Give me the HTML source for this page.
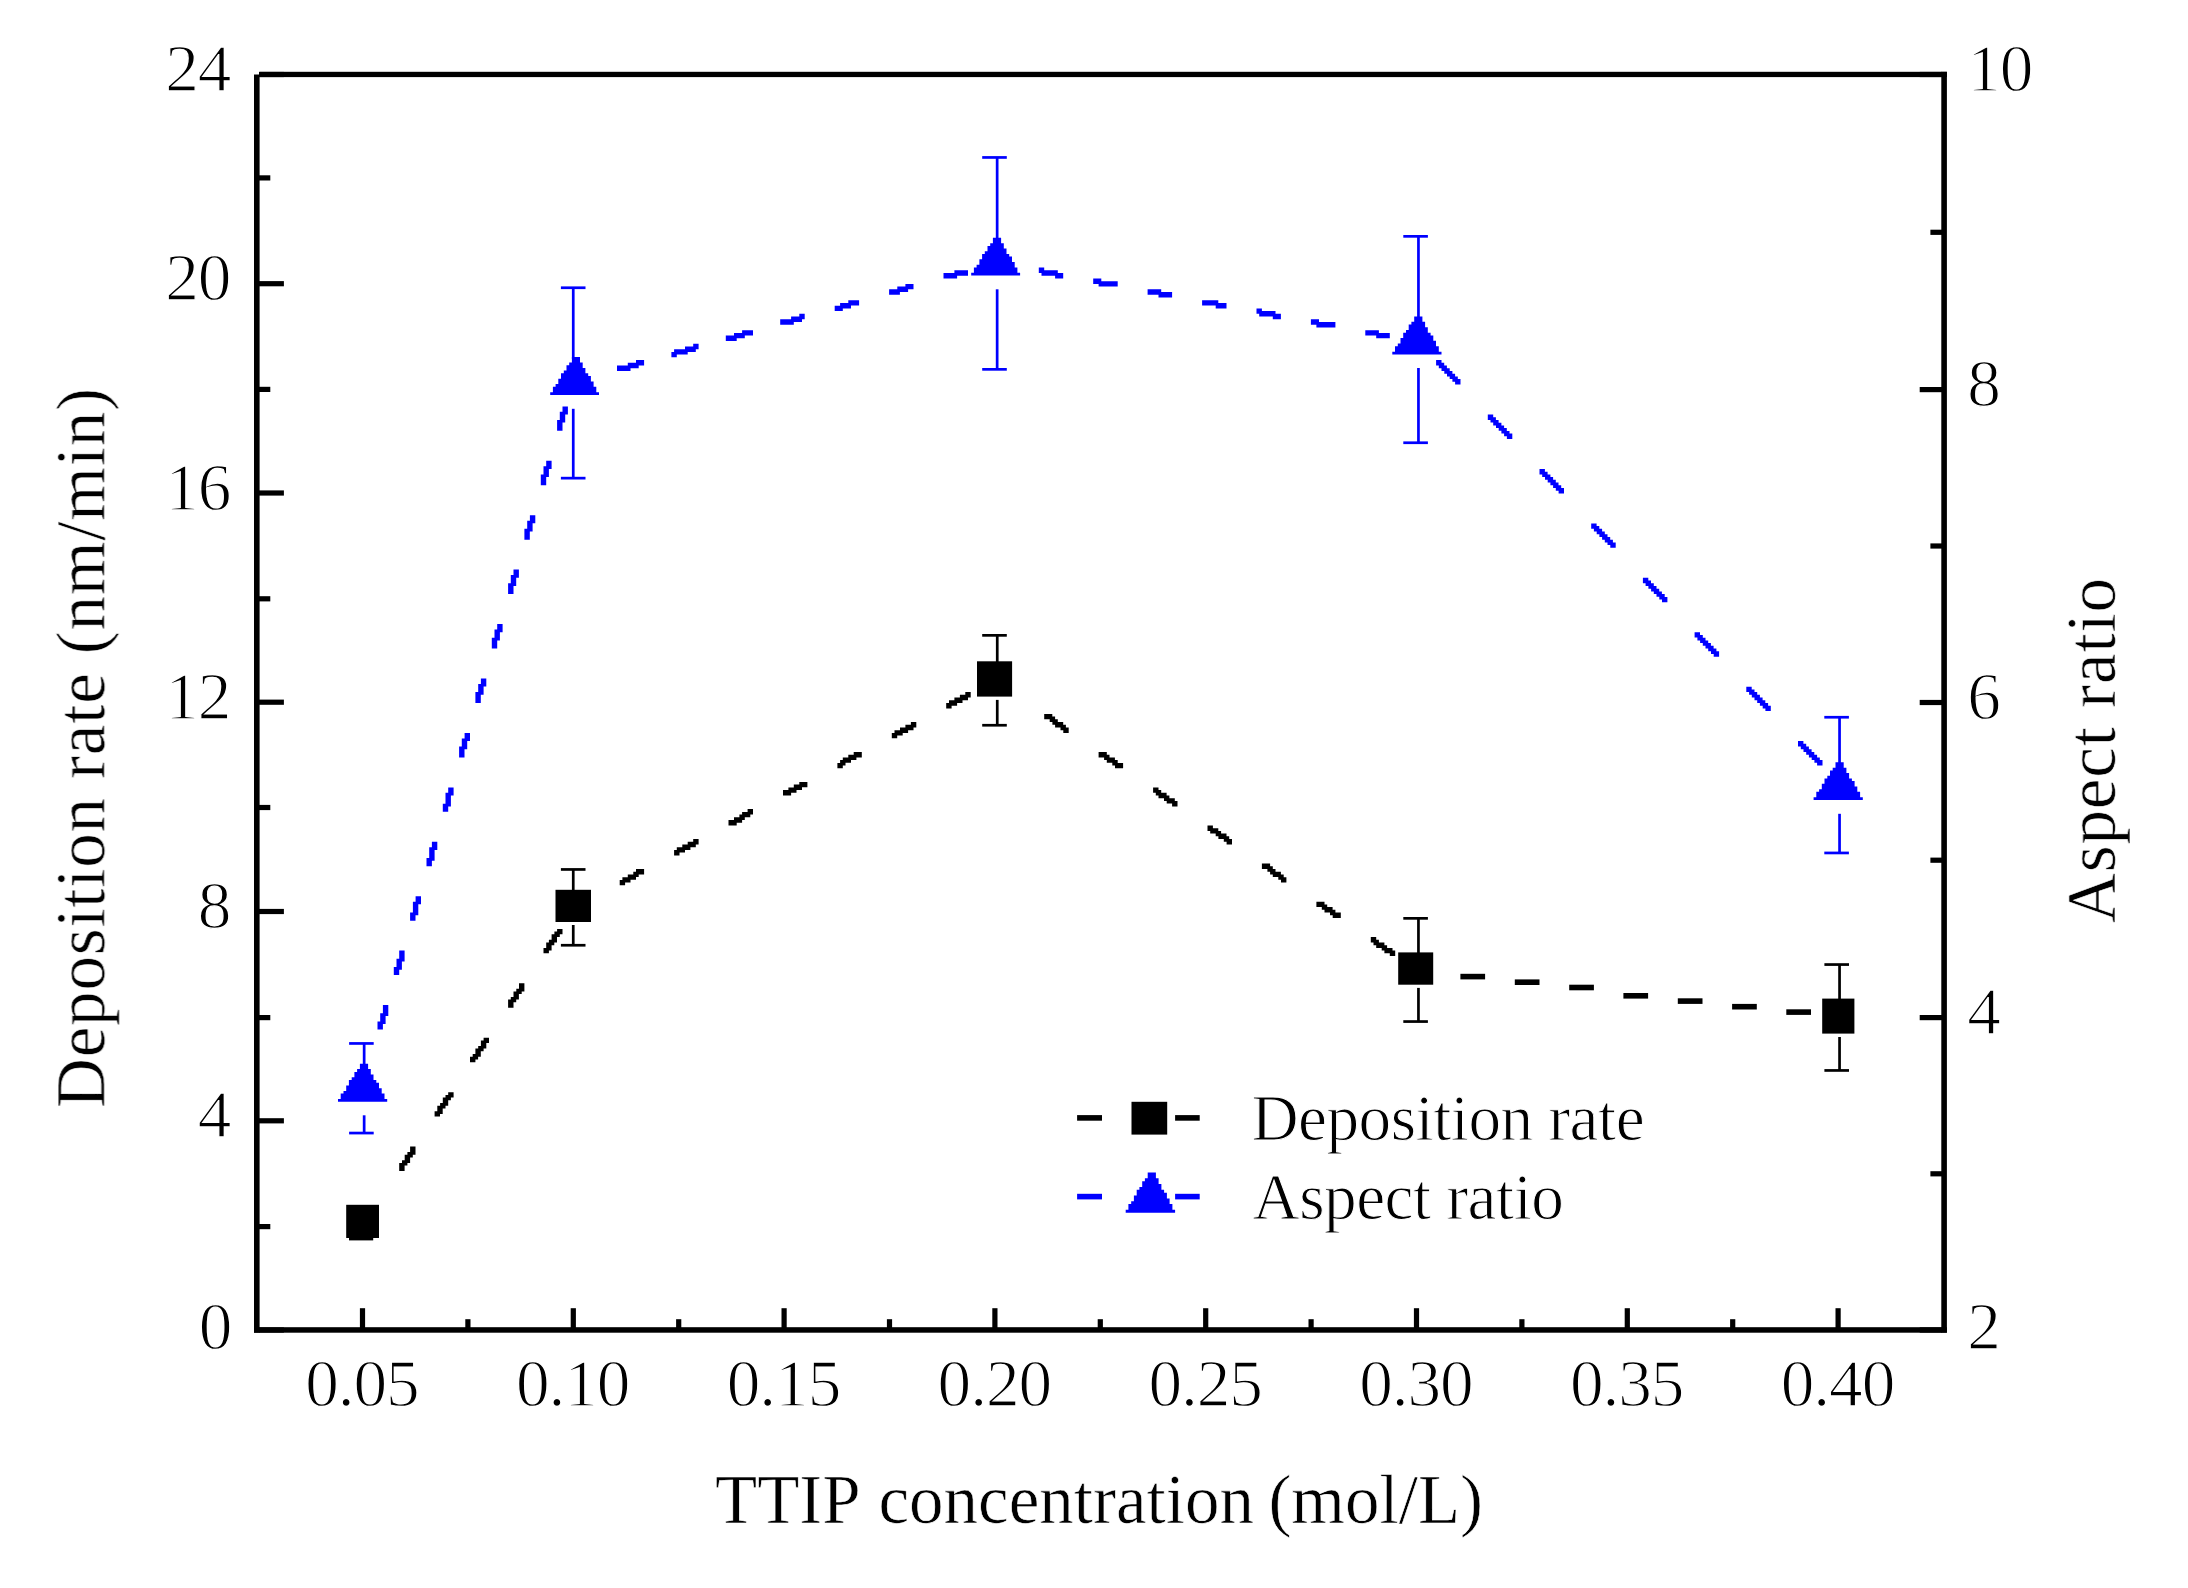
<!DOCTYPE html>
<html><head><meta charset="utf-8"><title>Deposition rate and aspect ratio vs TTIP concentration</title>
<style>html,body{margin:0;padding:0;background:#fff}svg{display:block}text{font-family:"Liberation Serif",serif;fill:#000;stroke:#fff;stroke-width:0.6px}text.t{stroke-width:1.3px;letter-spacing:-1.1px}text.l{stroke-width:1px;letter-spacing:-0.5px}</style>
</head><body>
<svg width="2188" height="1588" viewBox="0 0 2188 1588">
<defs><filter id="soft" x="0" y="0" width="2188" height="1588" filterUnits="userSpaceOnUse"><feGaussianBlur stdDeviation="0.6"/></filter><filter id="soft2" x="0" y="0" width="2188" height="1588" filterUnits="userSpaceOnUse"><feGaussianBlur stdDeviation="0.45"/></filter></defs>
<rect width="2188" height="1588" fill="#fff"/>
<g filter="url(#soft2)">
<rect x="254.0" y="74.5" width="5.6" height="1258.2" fill="#000"/>
<rect x="1941.3" y="71.8" width="5.6" height="1260.9" fill="#000"/>
<rect x="259.5" y="71.8" width="1687.4" height="5.3" fill="#000"/>
<rect x="254.0" y="1327.2" width="1692.9" height="5.5" fill="#000"/>
<rect x="259.0" y="1327.4" width="24.9" height="5.2" fill="#000"/>
<rect x="259.0" y="1224.0" width="11.3" height="5.2" fill="#000"/>
<rect x="259.0" y="1118.2" width="24.9" height="5.2" fill="#000"/>
<rect x="259.0" y="1015.0" width="11.3" height="5.2" fill="#000"/>
<rect x="259.0" y="908.9" width="24.9" height="5.2" fill="#000"/>
<rect x="259.0" y="804.9" width="11.3" height="5.2" fill="#000"/>
<rect x="259.0" y="699.6" width="24.9" height="5.2" fill="#000"/>
<rect x="259.0" y="596.2" width="11.3" height="5.2" fill="#000"/>
<rect x="259.0" y="490.4" width="24.9" height="5.2" fill="#000"/>
<rect x="259.0" y="386.8" width="11.3" height="5.2" fill="#000"/>
<rect x="259.0" y="281.1" width="24.9" height="5.2" fill="#000"/>
<rect x="259.0" y="175.3" width="11.3" height="5.2" fill="#000"/>
<rect x="259.0" y="71.9" width="24.9" height="5.2" fill="#000"/>
<rect x="1919.7" y="1327.4" width="22.3" height="5.2" fill="#000"/>
<rect x="1930.4" y="1171.2" width="11.6" height="5.2" fill="#000"/>
<rect x="1919.7" y="1015.0" width="22.3" height="5.2" fill="#000"/>
<rect x="1930.4" y="857.6" width="11.6" height="5.2" fill="#000"/>
<rect x="1919.7" y="699.9" width="22.3" height="5.2" fill="#000"/>
<rect x="1930.4" y="543.4" width="11.6" height="5.2" fill="#000"/>
<rect x="1919.7" y="387.0" width="22.3" height="5.2" fill="#000"/>
<rect x="1930.4" y="229.7" width="11.6" height="5.2" fill="#000"/>
<rect x="1919.7" y="71.9" width="22.3" height="5.2" fill="#000"/>
<rect x="359.9" y="1308.2" width="5.2" height="19.8" fill="#000"/>
<rect x="570.7" y="1308.2" width="5.2" height="19.8" fill="#000"/>
<rect x="781.5" y="1308.2" width="5.2" height="19.8" fill="#000"/>
<rect x="992.3" y="1308.2" width="5.2" height="19.8" fill="#000"/>
<rect x="1203.1" y="1308.2" width="5.2" height="19.8" fill="#000"/>
<rect x="1413.9" y="1308.2" width="5.2" height="19.8" fill="#000"/>
<rect x="1624.7" y="1308.2" width="5.2" height="19.8" fill="#000"/>
<rect x="1835.5" y="1308.2" width="5.2" height="19.8" fill="#000"/>
<rect x="465.3" y="1319.2" width="5.2" height="8.8" fill="#000"/>
<rect x="676.1" y="1319.2" width="5.2" height="8.8" fill="#000"/>
<rect x="886.9" y="1319.2" width="5.2" height="8.8" fill="#000"/>
<rect x="1097.7" y="1319.2" width="5.2" height="8.8" fill="#000"/>
<rect x="1308.5" y="1319.2" width="5.2" height="8.8" fill="#000"/>
<rect x="1519.3" y="1319.2" width="5.2" height="8.8" fill="#000"/>
<rect x="1730.1" y="1319.2" width="5.2" height="8.8" fill="#000"/>
<path d="M410.1 1146.6h5.4v5.4h-5.4zM410.1 1149.3h5.4v5.4h-5.4zM407.4 1152.0h5.4v5.4h-5.4zM404.7 1154.7h5.4v5.4h-5.4zM404.7 1157.5h5.4v5.4h-5.4zM402.0 1160.2h5.4v5.4h-5.4zM399.2 1162.9h5.4v5.4h-5.4zM399.2 1165.6h5.4v5.4h-5.4zM448.2 1092.2h5.4v5.4h-5.4zM445.5 1094.9h5.4v5.4h-5.4zM442.8 1097.6h5.4v5.4h-5.4zM442.8 1100.3h5.4v5.4h-5.4zM440.1 1103.0h5.4v5.4h-5.4zM437.3 1105.8h5.4v5.4h-5.4zM437.3 1108.5h5.4v5.4h-5.4zM434.6 1111.2h5.4v5.4h-5.4zM483.6 1037.7h5.4v5.4h-5.4zM480.9 1040.5h5.4v5.4h-5.4zM480.9 1043.2h5.4v5.4h-5.4zM478.2 1045.9h5.4v5.4h-5.4zM475.4 1048.6h5.4v5.4h-5.4zM475.4 1051.3h5.4v5.4h-5.4zM472.7 1054.1h5.4v5.4h-5.4zM470.0 1056.8h5.4v5.4h-5.4zM519.0 983.3h5.4v5.4h-5.4zM519.0 986.0h5.4v5.4h-5.4zM516.3 988.7h5.4v5.4h-5.4zM513.5 991.5h5.4v5.4h-5.4zM513.5 994.2h5.4v5.4h-5.4zM510.8 996.9h5.4v5.4h-5.4zM508.1 999.6h5.4v5.4h-5.4zM508.1 1002.4h5.4v5.4h-5.4zM557.1 928.9h5.4v5.4h-5.4zM554.4 931.6h5.4v5.4h-5.4zM551.6 934.3h5.4v5.4h-5.4zM551.6 937.0h5.4v5.4h-5.4zM548.9 939.8h5.4v5.4h-5.4zM546.2 942.5h5.4v5.4h-5.4zM546.2 945.2h5.4v5.4h-5.4zM543.5 947.9h5.4v5.4h-5.4z" fill="#000"/>
<path d="M619.7 879.9h5.4v5.4h-5.4zM622.4 877.2h5.4v5.4h-5.4zM625.1 877.2h5.4v5.4h-5.4zM627.8 874.4h5.4v5.4h-5.4zM630.6 874.4h5.4v5.4h-5.4zM633.3 871.7h5.4v5.4h-5.4zM636.0 869.0h5.4v5.4h-5.4zM638.7 869.0h5.4v5.4h-5.4zM674.1 850.0h5.4v5.4h-5.4zM676.8 847.2h5.4v5.4h-5.4zM679.6 847.2h5.4v5.4h-5.4zM682.3 844.5h5.4v5.4h-5.4zM685.0 844.5h5.4v5.4h-5.4zM687.7 841.8h5.4v5.4h-5.4zM690.4 841.8h5.4v5.4h-5.4zM693.2 839.1h5.4v5.4h-5.4zM728.5 820.0h5.4v5.4h-5.4zM731.3 820.0h5.4v5.4h-5.4zM734.0 817.3h5.4v5.4h-5.4zM736.7 817.3h5.4v5.4h-5.4zM739.4 814.6h5.4v5.4h-5.4zM742.1 811.9h5.4v5.4h-5.4zM744.9 811.9h5.4v5.4h-5.4zM747.6 809.1h5.4v5.4h-5.4zM783.0 790.1h5.4v5.4h-5.4zM785.7 790.1h5.4v5.4h-5.4zM788.4 787.4h5.4v5.4h-5.4zM791.1 787.4h5.4v5.4h-5.4zM793.8 784.6h5.4v5.4h-5.4zM796.6 784.6h5.4v5.4h-5.4zM799.3 781.9h5.4v5.4h-5.4zM802.0 781.9h5.4v5.4h-5.4zM837.4 762.9h5.4v5.4h-5.4zM840.1 760.1h5.4v5.4h-5.4zM842.8 757.4h5.4v5.4h-5.4zM845.6 757.4h5.4v5.4h-5.4zM848.3 754.7h5.4v5.4h-5.4zM851.0 754.7h5.4v5.4h-5.4zM853.7 752.0h5.4v5.4h-5.4zM856.4 752.0h5.4v5.4h-5.4zM891.8 732.9h5.4v5.4h-5.4zM894.5 730.2h5.4v5.4h-5.4zM897.3 730.2h5.4v5.4h-5.4zM900.0 727.5h5.4v5.4h-5.4zM902.7 727.5h5.4v5.4h-5.4zM905.4 724.8h5.4v5.4h-5.4zM908.1 724.8h5.4v5.4h-5.4zM910.9 722.0h5.4v5.4h-5.4zM946.2 703.0h5.4v5.4h-5.4zM949.0 700.3h5.4v5.4h-5.4zM951.7 700.3h5.4v5.4h-5.4zM954.4 697.6h5.4v5.4h-5.4zM957.1 697.6h5.4v5.4h-5.4zM959.9 694.8h5.4v5.4h-5.4zM962.6 694.8h5.4v5.4h-5.4zM965.3 692.1h5.4v5.4h-5.4z" fill="#000"/>
<path d="M1044.2 713.9h5.4v5.4h-5.4zM1046.9 713.9h5.4v5.4h-5.4zM1049.7 716.6h5.4v5.4h-5.4zM1052.4 719.3h5.4v5.4h-5.4zM1055.1 722.0h5.4v5.4h-5.4zM1057.8 722.0h5.4v5.4h-5.4zM1060.5 724.8h5.4v5.4h-5.4zM1063.3 727.5h5.4v5.4h-5.4zM1098.6 752.0h5.4v5.4h-5.4zM1101.4 752.0h5.4v5.4h-5.4zM1104.1 754.7h5.4v5.4h-5.4zM1106.8 757.4h5.4v5.4h-5.4zM1109.5 757.4h5.4v5.4h-5.4zM1112.3 760.1h5.4v5.4h-5.4zM1115.0 762.9h5.4v5.4h-5.4zM1117.7 762.9h5.4v5.4h-5.4zM1153.1 787.4h5.4v5.4h-5.4zM1155.8 790.1h5.4v5.4h-5.4zM1158.5 792.8h5.4v5.4h-5.4zM1161.2 792.8h5.4v5.4h-5.4zM1164.0 795.5h5.4v5.4h-5.4zM1166.7 798.2h5.4v5.4h-5.4zM1169.4 798.2h5.4v5.4h-5.4zM1172.1 801.0h5.4v5.4h-5.4zM1207.5 825.5h5.4v5.4h-5.4zM1210.2 828.2h5.4v5.4h-5.4zM1212.9 828.2h5.4v5.4h-5.4zM1215.7 830.9h5.4v5.4h-5.4zM1218.4 833.6h5.4v5.4h-5.4zM1221.1 833.6h5.4v5.4h-5.4zM1223.8 836.3h5.4v5.4h-5.4zM1226.6 839.1h5.4v5.4h-5.4zM1261.9 863.6h5.4v5.4h-5.4zM1264.7 863.6h5.4v5.4h-5.4zM1267.4 866.3h5.4v5.4h-5.4zM1270.1 869.0h5.4v5.4h-5.4zM1272.8 871.7h5.4v5.4h-5.4zM1275.5 871.7h5.4v5.4h-5.4zM1278.3 874.4h5.4v5.4h-5.4zM1281.0 877.2h5.4v5.4h-5.4zM1316.4 901.7h5.4v5.4h-5.4zM1319.1 901.7h5.4v5.4h-5.4zM1321.8 904.4h5.4v5.4h-5.4zM1324.5 907.1h5.4v5.4h-5.4zM1327.2 907.1h5.4v5.4h-5.4zM1330.0 909.8h5.4v5.4h-5.4zM1332.7 912.5h5.4v5.4h-5.4zM1335.4 912.5h5.4v5.4h-5.4zM1370.8 937.0h5.4v5.4h-5.4zM1373.5 939.8h5.4v5.4h-5.4zM1376.2 942.5h5.4v5.4h-5.4zM1379.0 942.5h5.4v5.4h-5.4zM1381.7 945.2h5.4v5.4h-5.4zM1384.4 947.9h5.4v5.4h-5.4zM1387.1 947.9h5.4v5.4h-5.4zM1389.8 950.6h5.4v5.4h-5.4z" fill="#000"/>
<rect x="1460.4" y="973.8" width="24.7" height="5.6" fill="#000"/>
<rect x="1514.8" y="979.4" width="24.7" height="5.6" fill="#000"/>
<rect x="1569.2" y="984.7" width="24.7" height="5.6" fill="#000"/>
<rect x="1623.4" y="993.0" width="24.7" height="5.6" fill="#000"/>
<rect x="1677.8" y="998.3" width="24.7" height="5.6" fill="#000"/>
<rect x="1732.1" y="1003.9" width="24.7" height="5.6" fill="#000"/>
<rect x="1786.3" y="1009.3" width="24.7" height="5.6" fill="#000"/>
<path d="M382.9 1005.1h5.4v5.4h-5.4zM382.9 1007.8h5.4v5.4h-5.4zM382.9 1010.5h5.4v5.4h-5.4zM380.2 1013.2h5.4v5.4h-5.4zM380.2 1016.0h5.4v5.4h-5.4zM380.2 1018.7h5.4v5.4h-5.4zM377.5 1021.4h5.4v5.4h-5.4zM377.5 1024.1h5.4v5.4h-5.4zM399.2 950.6h5.4v5.4h-5.4zM399.2 953.4h5.4v5.4h-5.4zM399.2 956.1h5.4v5.4h-5.4zM396.5 958.8h5.4v5.4h-5.4zM396.5 961.5h5.4v5.4h-5.4zM396.5 964.3h5.4v5.4h-5.4zM393.8 967.0h5.4v5.4h-5.4zM393.8 969.7h5.4v5.4h-5.4zM415.6 896.2h5.4v5.4h-5.4zM415.6 898.9h5.4v5.4h-5.4zM412.9 901.7h5.4v5.4h-5.4zM412.9 904.4h5.4v5.4h-5.4zM412.9 907.1h5.4v5.4h-5.4zM412.9 909.8h5.4v5.4h-5.4zM410.1 912.5h5.4v5.4h-5.4zM410.1 915.3h5.4v5.4h-5.4zM431.9 841.8h5.4v5.4h-5.4zM431.9 844.5h5.4v5.4h-5.4zM429.2 847.2h5.4v5.4h-5.4zM429.2 850.0h5.4v5.4h-5.4zM429.2 852.7h5.4v5.4h-5.4zM429.2 855.4h5.4v5.4h-5.4zM426.5 858.1h5.4v5.4h-5.4zM426.5 860.8h5.4v5.4h-5.4zM448.2 787.4h5.4v5.4h-5.4zM448.2 790.1h5.4v5.4h-5.4zM445.5 792.8h5.4v5.4h-5.4zM445.5 795.5h5.4v5.4h-5.4zM445.5 798.2h5.4v5.4h-5.4zM445.5 801.0h5.4v5.4h-5.4zM442.8 803.7h5.4v5.4h-5.4zM442.8 806.4h5.4v5.4h-5.4zM464.6 732.9h5.4v5.4h-5.4zM464.6 735.7h5.4v5.4h-5.4zM461.8 738.4h5.4v5.4h-5.4zM461.8 741.1h5.4v5.4h-5.4zM461.8 743.8h5.4v5.4h-5.4zM459.1 746.5h5.4v5.4h-5.4zM459.1 749.3h5.4v5.4h-5.4zM459.1 752.0h5.4v5.4h-5.4zM480.9 678.5h5.4v5.4h-5.4zM480.9 681.2h5.4v5.4h-5.4zM478.2 683.9h5.4v5.4h-5.4zM478.2 686.7h5.4v5.4h-5.4zM478.2 689.4h5.4v5.4h-5.4zM475.4 692.1h5.4v5.4h-5.4zM475.4 694.8h5.4v5.4h-5.4zM475.4 697.6h5.4v5.4h-5.4zM497.2 624.1h5.4v5.4h-5.4zM497.2 626.8h5.4v5.4h-5.4zM494.5 629.5h5.4v5.4h-5.4zM494.5 632.2h5.4v5.4h-5.4zM494.5 635.0h5.4v5.4h-5.4zM491.8 637.7h5.4v5.4h-5.4zM491.8 640.4h5.4v5.4h-5.4zM491.8 643.1h5.4v5.4h-5.4zM513.5 569.6h5.4v5.4h-5.4zM513.5 572.4h5.4v5.4h-5.4zM510.8 575.1h5.4v5.4h-5.4zM510.8 577.8h5.4v5.4h-5.4zM510.8 580.5h5.4v5.4h-5.4zM508.1 583.3h5.4v5.4h-5.4zM508.1 586.0h5.4v5.4h-5.4zM508.1 588.7h5.4v5.4h-5.4zM529.9 515.2h5.4v5.4h-5.4zM529.9 517.9h5.4v5.4h-5.4zM527.2 520.7h5.4v5.4h-5.4zM527.2 523.4h5.4v5.4h-5.4zM527.2 526.1h5.4v5.4h-5.4zM524.4 528.8h5.4v5.4h-5.4zM524.4 531.5h5.4v5.4h-5.4zM524.4 534.3h5.4v5.4h-5.4zM546.2 460.8h5.4v5.4h-5.4zM546.2 463.5h5.4v5.4h-5.4zM543.5 466.2h5.4v5.4h-5.4zM543.5 469.0h5.4v5.4h-5.4zM543.5 471.7h5.4v5.4h-5.4zM540.8 474.4h5.4v5.4h-5.4zM540.8 477.1h5.4v5.4h-5.4zM540.8 479.8h5.4v5.4h-5.4zM562.5 406.4h5.4v5.4h-5.4zM562.5 409.1h5.4v5.4h-5.4zM559.8 411.8h5.4v5.4h-5.4zM559.8 414.5h5.4v5.4h-5.4zM559.8 417.2h5.4v5.4h-5.4zM557.1 420.0h5.4v5.4h-5.4zM557.1 422.7h5.4v5.4h-5.4zM557.1 425.4h5.4v5.4h-5.4z" fill="#0000ff"/>
<path d="M617.0 365.5h5.4v5.4h-5.4zM619.7 365.5h5.4v5.4h-5.4zM622.4 365.5h5.4v5.4h-5.4zM625.1 365.5h5.4v5.4h-5.4zM627.8 362.8h5.4v5.4h-5.4zM630.6 362.8h5.4v5.4h-5.4zM633.3 362.8h5.4v5.4h-5.4zM636.0 360.1h5.4v5.4h-5.4zM638.7 360.1h5.4v5.4h-5.4zM671.4 351.9h5.4v5.4h-5.4zM674.1 349.2h5.4v5.4h-5.4zM676.8 349.2h5.4v5.4h-5.4zM679.6 349.2h5.4v5.4h-5.4zM682.3 349.2h5.4v5.4h-5.4zM685.0 346.5h5.4v5.4h-5.4zM687.7 346.5h5.4v5.4h-5.4zM690.4 346.5h5.4v5.4h-5.4zM693.2 343.8h5.4v5.4h-5.4zM725.8 335.6h5.4v5.4h-5.4zM728.5 335.6h5.4v5.4h-5.4zM731.3 335.6h5.4v5.4h-5.4zM734.0 332.9h5.4v5.4h-5.4zM736.7 332.9h5.4v5.4h-5.4zM739.4 332.9h5.4v5.4h-5.4zM742.1 330.2h5.4v5.4h-5.4zM744.9 330.2h5.4v5.4h-5.4zM747.6 330.2h5.4v5.4h-5.4z" fill="#0000ff"/>
<path d="M780.2 319.3h5.4v5.4h-5.4zM783.0 319.3h5.4v5.4h-5.4zM785.7 319.3h5.4v5.4h-5.4zM788.4 319.3h5.4v5.4h-5.4zM791.1 316.6h5.4v5.4h-5.4zM793.8 316.6h5.4v5.4h-5.4zM796.6 316.6h5.4v5.4h-5.4zM799.3 313.8h5.4v5.4h-5.4zM834.7 305.7h5.4v5.4h-5.4zM837.4 305.7h5.4v5.4h-5.4zM840.1 303.0h5.4v5.4h-5.4zM842.8 303.0h5.4v5.4h-5.4zM845.6 303.0h5.4v5.4h-5.4zM848.3 300.2h5.4v5.4h-5.4zM851.0 300.2h5.4v5.4h-5.4zM853.7 300.2h5.4v5.4h-5.4zM889.1 289.3h5.4v5.4h-5.4zM891.8 289.3h5.4v5.4h-5.4zM894.5 289.3h5.4v5.4h-5.4zM897.3 286.6h5.4v5.4h-5.4zM900.0 286.6h5.4v5.4h-5.4zM902.7 286.6h5.4v5.4h-5.4zM905.4 283.9h5.4v5.4h-5.4zM908.1 283.9h5.4v5.4h-5.4zM943.5 273.0h5.4v5.4h-5.4zM946.2 273.0h5.4v5.4h-5.4zM949.0 273.0h5.4v5.4h-5.4zM951.7 273.0h5.4v5.4h-5.4zM954.4 270.3h5.4v5.4h-5.4zM957.1 270.3h5.4v5.4h-5.4zM959.9 270.3h5.4v5.4h-5.4zM962.6 270.3h5.4v5.4h-5.4z" fill="#0000ff"/>
<path d="M1038.8 267.6h5.4v5.4h-5.4zM1041.5 270.3h5.4v5.4h-5.4zM1044.2 270.3h5.4v5.4h-5.4zM1046.9 270.3h5.4v5.4h-5.4zM1049.7 270.3h5.4v5.4h-5.4zM1052.4 270.3h5.4v5.4h-5.4zM1055.1 273.0h5.4v5.4h-5.4zM1057.8 273.0h5.4v5.4h-5.4zM1093.2 278.5h5.4v5.4h-5.4zM1095.9 278.5h5.4v5.4h-5.4zM1098.6 281.2h5.4v5.4h-5.4zM1101.4 281.2h5.4v5.4h-5.4zM1104.1 281.2h5.4v5.4h-5.4zM1106.8 281.2h5.4v5.4h-5.4zM1109.5 281.2h5.4v5.4h-5.4zM1112.3 281.2h5.4v5.4h-5.4zM1147.6 289.3h5.4v5.4h-5.4zM1150.4 289.3h5.4v5.4h-5.4zM1153.1 289.3h5.4v5.4h-5.4zM1155.8 289.3h5.4v5.4h-5.4zM1158.5 292.1h5.4v5.4h-5.4zM1161.2 292.1h5.4v5.4h-5.4zM1164.0 292.1h5.4v5.4h-5.4zM1166.7 292.1h5.4v5.4h-5.4zM1202.1 300.2h5.4v5.4h-5.4zM1204.8 300.2h5.4v5.4h-5.4zM1207.5 300.2h5.4v5.4h-5.4zM1210.2 300.2h5.4v5.4h-5.4zM1212.9 300.2h5.4v5.4h-5.4zM1215.7 303.0h5.4v5.4h-5.4zM1218.4 303.0h5.4v5.4h-5.4zM1221.1 303.0h5.4v5.4h-5.4zM1256.5 308.4h5.4v5.4h-5.4zM1259.2 311.1h5.4v5.4h-5.4zM1261.9 311.1h5.4v5.4h-5.4zM1264.7 311.1h5.4v5.4h-5.4zM1267.4 311.1h5.4v5.4h-5.4zM1270.1 311.1h5.4v5.4h-5.4zM1272.8 313.8h5.4v5.4h-5.4zM1275.5 313.8h5.4v5.4h-5.4zM1310.9 319.3h5.4v5.4h-5.4zM1313.6 319.3h5.4v5.4h-5.4zM1316.4 322.0h5.4v5.4h-5.4zM1319.1 322.0h5.4v5.4h-5.4zM1321.8 322.0h5.4v5.4h-5.4zM1324.5 322.0h5.4v5.4h-5.4zM1327.2 322.0h5.4v5.4h-5.4zM1330.0 322.0h5.4v5.4h-5.4zM1365.3 330.2h5.4v5.4h-5.4zM1368.1 330.2h5.4v5.4h-5.4zM1370.8 330.2h5.4v5.4h-5.4zM1373.5 330.2h5.4v5.4h-5.4zM1376.2 332.9h5.4v5.4h-5.4zM1379.0 332.9h5.4v5.4h-5.4zM1381.7 332.9h5.4v5.4h-5.4zM1384.4 332.9h5.4v5.4h-5.4z" fill="#0000ff"/>
<path d="M1436.1 360.1h5.4v5.4h-5.4zM1438.8 362.8h5.4v5.4h-5.4zM1441.5 365.5h5.4v5.4h-5.4zM1444.3 368.3h5.4v5.4h-5.4zM1447.0 371.0h5.4v5.4h-5.4zM1449.7 373.7h5.4v5.4h-5.4zM1452.4 376.4h5.4v5.4h-5.4zM1455.1 379.1h5.4v5.4h-5.4zM1487.8 414.5h5.4v5.4h-5.4zM1490.5 417.2h5.4v5.4h-5.4zM1493.2 420.0h5.4v5.4h-5.4zM1496.0 422.7h5.4v5.4h-5.4zM1498.7 425.4h5.4v5.4h-5.4zM1501.4 428.1h5.4v5.4h-5.4zM1504.1 430.9h5.4v5.4h-5.4zM1506.9 433.6h5.4v5.4h-5.4zM1539.5 469.0h5.4v5.4h-5.4zM1542.2 471.7h5.4v5.4h-5.4zM1545.0 474.4h5.4v5.4h-5.4zM1547.7 477.1h5.4v5.4h-5.4zM1550.4 479.8h5.4v5.4h-5.4zM1553.1 482.6h5.4v5.4h-5.4zM1555.8 485.3h5.4v5.4h-5.4zM1558.6 488.0h5.4v5.4h-5.4zM1591.2 523.4h5.4v5.4h-5.4zM1593.9 526.1h5.4v5.4h-5.4zM1596.7 528.8h5.4v5.4h-5.4zM1599.4 531.5h5.4v5.4h-5.4zM1602.1 534.3h5.4v5.4h-5.4zM1604.8 537.0h5.4v5.4h-5.4zM1607.5 539.7h5.4v5.4h-5.4zM1610.3 542.4h5.4v5.4h-5.4zM1642.9 577.8h5.4v5.4h-5.4zM1645.6 580.5h5.4v5.4h-5.4zM1648.4 583.3h5.4v5.4h-5.4zM1651.1 586.0h5.4v5.4h-5.4zM1653.8 588.7h5.4v5.4h-5.4zM1656.5 591.4h5.4v5.4h-5.4zM1659.3 594.1h5.4v5.4h-5.4zM1662.0 596.9h5.4v5.4h-5.4zM1694.6 632.2h5.4v5.4h-5.4zM1697.4 635.0h5.4v5.4h-5.4zM1700.1 637.7h5.4v5.4h-5.4zM1702.8 640.4h5.4v5.4h-5.4zM1705.5 643.1h5.4v5.4h-5.4zM1708.2 645.8h5.4v5.4h-5.4zM1711.0 648.6h5.4v5.4h-5.4zM1713.7 651.3h5.4v5.4h-5.4zM1746.3 686.7h5.4v5.4h-5.4zM1749.1 689.4h5.4v5.4h-5.4zM1751.8 692.1h5.4v5.4h-5.4zM1754.5 694.8h5.4v5.4h-5.4zM1757.2 697.6h5.4v5.4h-5.4zM1759.9 700.3h5.4v5.4h-5.4zM1762.7 703.0h5.4v5.4h-5.4zM1765.4 705.7h5.4v5.4h-5.4zM1798.0 741.1h5.4v5.4h-5.4zM1800.8 743.8h5.4v5.4h-5.4zM1803.5 746.5h5.4v5.4h-5.4zM1806.2 749.3h5.4v5.4h-5.4zM1808.9 752.0h5.4v5.4h-5.4zM1811.7 754.7h5.4v5.4h-5.4zM1814.4 757.4h5.4v5.4h-5.4zM1817.1 760.1h5.4v5.4h-5.4z" fill="#0000ff"/>
<rect x="560.9" y="868.1" width="24.6" height="2.7" fill="#000"/>
<rect x="560.9" y="943.9" width="24.6" height="2.7" fill="#000"/>
<rect x="571.9" y="869.5" width="2.7" height="21.5" fill="#000"/>
<rect x="571.9" y="925.0" width="2.7" height="20.2" fill="#000"/>
<rect x="982.2" y="634.0" width="24.6" height="2.7" fill="#000"/>
<rect x="982.2" y="723.9" width="24.6" height="2.7" fill="#000"/>
<rect x="995.9" y="635.4" width="2.7" height="27.6" fill="#000"/>
<rect x="995.9" y="699.9" width="2.7" height="25.3" fill="#000"/>
<rect x="1403.3" y="917.0" width="24.6" height="2.7" fill="#000"/>
<rect x="1403.3" y="1020.2" width="24.6" height="2.7" fill="#000"/>
<rect x="1417.1" y="918.4" width="2.7" height="35.6" fill="#000"/>
<rect x="1417.1" y="987.9" width="2.7" height="33.7" fill="#000"/>
<rect x="1824.4" y="963.2" width="24.6" height="2.7" fill="#000"/>
<rect x="1824.4" y="1069.1" width="24.6" height="2.7" fill="#000"/>
<rect x="1838.2" y="964.6" width="2.7" height="35.4" fill="#000"/>
<rect x="1838.2" y="1037.0" width="2.7" height="33.4" fill="#000"/>
<rect x="349.0" y="1237.5" width="24.2" height="2.9" fill="#000"/>
<rect x="349.1" y="1042.1" width="24.6" height="2.7" fill="#0000ff"/>
<rect x="349.1" y="1131.7" width="24.6" height="2.7" fill="#0000ff"/>
<rect x="362.8" y="1043.4" width="2.7" height="21.6" fill="#0000ff"/>
<rect x="362.8" y="1115.3" width="2.7" height="17.7" fill="#0000ff"/>
<rect x="560.9" y="286.4" width="24.6" height="2.7" fill="#0000ff"/>
<rect x="560.9" y="476.8" width="24.6" height="2.7" fill="#0000ff"/>
<rect x="571.9" y="287.8" width="2.7" height="71.2" fill="#0000ff"/>
<rect x="571.9" y="408.8" width="2.7" height="69.4" fill="#0000ff"/>
<rect x="982.2" y="156.1" width="24.6" height="2.7" fill="#0000ff"/>
<rect x="982.2" y="368.0" width="24.6" height="2.7" fill="#0000ff"/>
<rect x="995.8" y="157.4" width="2.7" height="82.6" fill="#0000ff"/>
<rect x="995.8" y="289.3" width="2.7" height="80.1" fill="#0000ff"/>
<rect x="1403.3" y="235.0" width="24.6" height="2.7" fill="#0000ff"/>
<rect x="1403.3" y="441.4" width="24.6" height="2.7" fill="#0000ff"/>
<rect x="1417.1" y="236.3" width="2.7" height="81.7" fill="#0000ff"/>
<rect x="1417.1" y="368.0" width="2.7" height="74.8" fill="#0000ff"/>
<rect x="1824.3" y="715.9" width="24.6" height="2.7" fill="#0000ff"/>
<rect x="1824.3" y="851.6" width="24.6" height="2.7" fill="#0000ff"/>
<rect x="1838.2" y="717.2" width="2.7" height="46.8" fill="#0000ff"/>
<rect x="1838.2" y="813.8" width="2.7" height="39.2" fill="#0000ff"/>
<rect x="346.2" y="1204.8" width="32.8" height="33.2" fill="#000"/>
<rect x="555.5" y="889.8" width="35.5" height="32.2" fill="#000"/>
<rect x="977.0" y="661.3" width="35.1" height="35.3" fill="#000"/>
<rect x="1398.2" y="952.4" width="35.0" height="32.3" fill="#000"/>
<rect x="1822.2" y="998.6" width="32.2" height="35.0" fill="#000"/>
<path d="M359.9 1063.7H368.1V1066.5H359.9zM359.9 1066.4H368.1V1069.2H359.9zM357.1 1069.1H370.8V1071.9H357.1zM354.4 1071.9H370.8V1074.6H354.4zM354.4 1074.6H373.5V1077.4H354.4zM351.7 1077.3H373.5V1080.1H351.7zM348.9 1080.0H376.3V1082.8H348.9zM348.9 1082.8H379.0V1085.5H348.9zM346.2 1085.5H379.0V1088.2H346.2zM346.2 1088.2H381.7V1091.0H346.2zM343.5 1090.9H381.7V1093.7H343.5zM340.7 1093.6H384.5V1096.4H340.7zM340.7 1096.4H384.5V1099.1H340.7zM338.0 1099.1H387.2V1101.8H338.0z" fill="#0000ff"/>
<path d="M571.9 357.1H580.0V359.9H571.9zM571.9 359.8H580.0V362.6H571.9zM569.2 362.5H582.7V365.2H569.2zM566.5 365.2H582.7V368.0H566.5zM566.5 367.9H585.4V370.7H566.5zM563.8 370.6H585.4V373.4H563.8zM561.0 373.3H588.2V376.1H561.0zM561.0 376.0H590.9V378.8H561.0zM558.3 378.7H590.9V381.4H558.3zM558.3 381.4H593.6V384.1H558.3zM555.6 384.1H593.6V386.9H555.6zM552.9 386.8H596.3V389.6H552.9zM552.9 389.5H596.3V392.2H552.9zM550.2 392.2H599.0V394.9H550.2z" fill="#0000ff"/>
<path d="M992.9 237.8H1001.1V240.5H992.9zM992.9 240.5H1001.1V243.2H992.9zM990.2 243.2H1003.8V245.9H990.2zM987.5 245.9H1003.8V248.6H987.5zM987.5 248.6H1006.5V251.3H987.5zM984.8 251.3H1006.5V254.0H984.8zM982.1 254.0H1009.2V256.7H982.1zM982.1 256.6H1012.0V259.4H982.1zM979.4 259.3H1012.0V262.1H979.4zM979.4 262.0H1014.7V264.8H979.4zM976.6 264.7H1014.7V267.5H976.6zM973.9 267.4H1017.4V270.2H973.9zM973.9 270.1H1017.4V272.9H973.9zM971.2 272.8H1020.1V275.6H971.2z" fill="#0000ff"/>
<path d="M1414.2 316.4H1422.4V319.2H1414.2zM1414.2 319.1H1422.4V321.9H1414.2zM1411.4 321.8H1425.1V324.6H1411.4zM1408.7 324.5H1425.1V327.3H1408.7zM1408.7 327.3H1427.8V330.0H1408.7zM1406.0 330.0H1427.8V332.7H1406.0zM1403.2 332.7H1430.6V335.4H1403.2zM1403.2 335.4H1433.3V338.2H1403.2zM1400.5 338.1H1433.3V340.9H1400.5zM1400.5 340.8H1436.0V343.6H1400.5zM1397.8 343.5H1436.0V346.3H1397.8zM1395.0 346.3H1438.8V349.0H1395.0zM1395.0 349.0H1438.8V351.7H1395.0zM1392.3 351.7H1441.5V354.4H1392.3z" fill="#0000ff"/>
<path d="M1835.5 762.3H1843.7V765.0H1835.5zM1835.5 765.0H1843.7V767.7H1835.5zM1832.7 767.7H1846.4V770.4H1832.7zM1830.0 770.4H1846.4V773.1H1830.0zM1830.0 773.0H1849.1V775.8H1830.0zM1827.3 775.7H1849.1V778.5H1827.3zM1824.5 778.4H1851.9V781.1H1824.5zM1824.5 781.1H1854.6V783.8H1824.5zM1821.8 783.8H1854.6V786.5H1821.8zM1821.8 786.5H1857.3V789.2H1821.8zM1819.1 789.2H1857.3V791.9H1819.1zM1816.3 791.8H1860.1V794.6H1816.3zM1816.3 794.5H1860.1V797.3H1816.3zM1813.6 797.2H1862.8V799.9H1813.6z" fill="#0000ff"/>
<line x1="1077.1" y1="1117.9" x2="1102.0" y2="1117.9" stroke="#000" stroke-width="5.6"/>
<line x1="1175.1" y1="1117.9" x2="1199.7" y2="1117.9" stroke="#000" stroke-width="5.6"/>
<rect x="1131.5" y="1101.8" width="35.7" height="32.8" fill="#000"/>
<line x1="1077.1" y1="1196.6" x2="1102.0" y2="1196.6" stroke="#0000ff" stroke-width="5.6"/>
<line x1="1175.1" y1="1196.6" x2="1199.7" y2="1196.6" stroke="#0000ff" stroke-width="5.6"/>
<path d="M1147.7 1172.6H1155.9V1175.5H1147.7zM1147.7 1175.5H1155.9V1178.4H1147.7zM1144.9 1178.3H1158.6V1181.2H1144.9zM1142.2 1181.2H1158.6V1184.1H1142.2zM1142.2 1184.1H1161.4V1187.0H1142.2zM1139.4 1186.9H1161.4V1189.8H1139.4zM1136.7 1189.8H1164.1V1192.7H1136.7zM1136.7 1192.7H1166.9V1195.6H1136.7zM1133.9 1195.5H1166.9V1198.4H1133.9zM1133.9 1198.4H1169.6V1201.3H1133.9zM1131.2 1201.2H1169.6V1204.2H1131.2zM1128.4 1204.1H1172.4V1207.0H1128.4zM1128.4 1207.0H1172.4V1209.9H1128.4zM1125.7 1209.8H1175.1V1212.8H1125.7z" fill="#0000ff"/>
</g>
<g filter="url(#soft)">
<text class="t" x="231.3" y="1348.8" font-size="67.3" text-anchor="end">0</text>
<text class="t" x="230.3" y="1137.3" font-size="67.3" text-anchor="end">4</text>
<text class="t" x="230.3" y="928.1" font-size="67.3" text-anchor="end">8</text>
<text class="t" x="230.3" y="718.9" font-size="67.3" text-anchor="end">12</text>
<text class="t" x="230.3" y="509.6" font-size="67.3" text-anchor="end">16</text>
<text class="t" x="230.3" y="300.4" font-size="67.3" text-anchor="end">20</text>
<text class="t" x="230.3" y="91.1" font-size="67.3" text-anchor="end">24</text>
<text class="t" x="1967.2" y="1349.0" font-size="67.3" text-anchor="start">2</text>
<text class="t" x="1967.2" y="1034.0" font-size="67.3" text-anchor="start">4</text>
<text class="t" x="1967.2" y="718.9" font-size="67.3" text-anchor="start">6</text>
<text class="t" x="1967.2" y="406.0" font-size="67.3" text-anchor="start">8</text>
<text class="t" x="1967.2" y="90.9" font-size="67.3" text-anchor="start">10</text>
<text class="t" x="361.9" y="1405.8" font-size="67.3" text-anchor="middle">0.05</text>
<text class="t" x="572.7" y="1405.8" font-size="67.3" text-anchor="middle">0.10</text>
<text class="t" x="783.5" y="1405.8" font-size="67.3" text-anchor="middle">0.15</text>
<text class="t" x="994.3" y="1405.8" font-size="67.3" text-anchor="middle">0.20</text>
<text class="t" x="1205.1" y="1405.8" font-size="67.3" text-anchor="middle">0.25</text>
<text class="t" x="1415.9" y="1405.8" font-size="67.3" text-anchor="middle">0.30</text>
<text class="t" x="1626.7" y="1405.8" font-size="67.3" text-anchor="middle">0.35</text>
<text class="t" x="1837.5" y="1405.8" font-size="67.3" text-anchor="middle">0.40</text>
<text class="l" x="1251.5" y="1139.8" font-size="65.2" text-anchor="start">Deposition rate</text>
<text class="l" x="1252.6" y="1218.6" font-size="65.2" text-anchor="start">Aspect ratio</text>
<text y="1522.6" font-size="69"><tspan x="715">TTIP</tspan> <tspan x="878.4">concentration</tspan> <tspan x="1268.4">(mol/L)</tspan></text>
<text transform="translate(104.3,1108) rotate(-90)" font-size="69" textLength="720" lengthAdjust="spacing">Deposition rate (nm/min)</text>
<text transform="translate(2114.9,923) rotate(-90)" font-size="69" textLength="345" lengthAdjust="spacing">Aspect ratio</text>
</g>
</svg>
</body></html>
